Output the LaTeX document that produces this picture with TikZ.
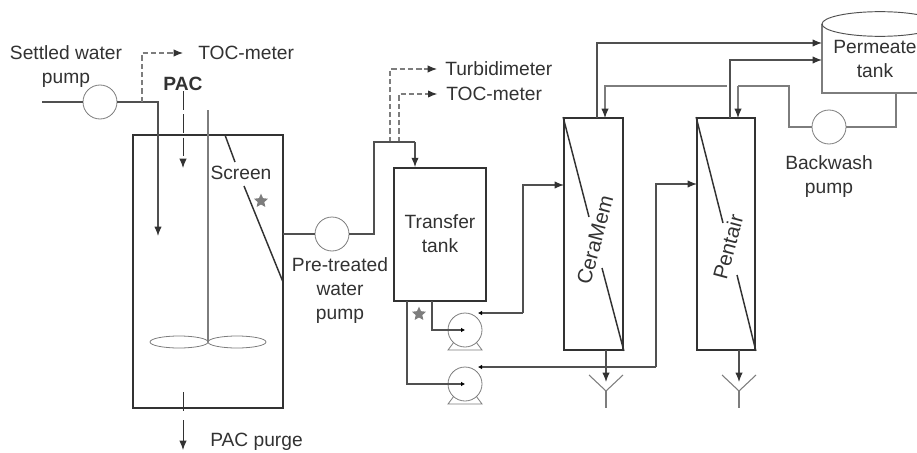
\documentclass[tikz,border=0pt]{standalone}
\usepackage{xcolor}
\usepackage{fontspec}
\setmainfont{Liberation Sans}
\usetikzlibrary{shapes.geometric, arrows.meta}
\definecolor{plantdark}{RGB}{50, 50, 50}
\definecolor{plantline}{RGB}{80, 80, 80}
\definecolor{plantthin}{RGB}{125, 125, 125}
\definecolor{plantstar}{RGB}{125, 125, 125}
\tikzset{
    tankbox/.style={draw=plantdark, line width=1.3pt, fill=none, inner sep=0pt},
    pumpdisc/.style={circle, draw=plantthin, line width=0.6pt, fill=white, minimum size=25.5pt, inner sep=0pt},
    plantlabel/.style={text=plantdark, font=\fontsize{14.4}{18}\selectfont, align=center, inner sep=0pt},
    bigtip/.style={-{Latex[length=7pt, width=5.5pt, color=plantdark]}},
    smalltip/.style={-{Latex[length=3pt, width=3.5pt, color=black]}},
    pipe/.style={draw=plantline, line width=0.9pt},
    thinpipe/.style={draw=plantthin, line width=0.8pt},
    flow/.style={pipe, bigtip},
    sample/.style={draw=plantthin, line width=0.8pt, dash pattern=on 4pt off 2.2pt, bigtip},
    hitmark/.style={star, star points=5, star point ratio=2.1, fill=plantstar, minimum size=11pt, inner sep=0pt},
    membrane/.style={draw=plantdark, line width=1.1pt},
    drainfork/.style={draw=plantthin, line width=0.8pt},
    paddle/.style={ellipse, draw=plantthin, line width=0.6pt, minimum width=43.5pt, minimum height=9pt, inner sep=0pt},
}

\begin{document}
\begin{tikzpicture}[x=0.75pt, y=-0.75pt]
    \useasboundingbox (0,0) rectangle (917,453);

    % tanks
    \node[tankbox, minimum width=112.5pt, minimum height=204.75pt] (reactor) at (208,271.5) {};
    \node[tankbox, minimum width=69pt, minimum height=99.75pt] (transfer) at (440,234.5) {};
    \node[tankbox, minimum width=44.25pt, minimum height=174pt] (ceramem) at (593.5,234) {};
    \node[tankbox, minimum width=43.5pt, minimum height=174pt] (pentair) at (726,234) {};

    % permeate tank, cut by the page edge
    \draw[draw=plantthin, line width=0.8pt] (917,93) -- (822,93) -- (822,24);
    \node[ellipse, draw=plantline, line width=0.7pt, minimum width=87pt, minimum height=18.5pt, inner sep=0pt] (permeate) at (880,24) {};
    \coordinate (permin) at (822,43);
    \coordinate (permintwo) at (822,60);
    \coordinate (permout) at (896,93);

    % simple pumps
    \node[pumpdisc] (settledpump) at (100,102) {};
    \node[pumpdisc] (pretreatpump) at (332,234) {};
    \node[pumpdisc] (backwashpump) at (829,127) {};

    % feed pumps with their feet
    \foreach \nm/\yy in {feedpumpa/330, feedpumpb/384} {
        \draw[draw=plantthin, line width=0.6pt] (454,\yy+12) -- (448,\yy+20) -- (482,\yy+20) -- (476,\yy+12);
        \node[pumpdisc] (\nm) at (465,\yy) {};
    }

    % settled water line
    \coordinate (inlet) at (42,102);
    \coordinate (settledbend) at (158,102);
    \coordinate (settledend) at (158,236);
    \draw[pipe] (inlet) -- (settledpump);
    \draw[flow] (settledpump) -- (settledbend) -- (settledend);

    % PAC dosing and stirrer
    \node[plantlabel, font=\fontsize{14.4}{18}\selectfont\bfseries] (pac) at (183,84) {PAC};
    \coordinate (pacend) at (183,168);
    \draw[draw=plantdark, line width=0.7pt, dash pattern=on 14pt off 3.5pt, bigtip] (pac.south) -- (pacend);
    \coordinate (stirtop) at (208,110);
    \coordinate (stirhub) at (208,342);
    \draw[draw=plantthin, line width=0.9pt] (stirtop) -- (stirhub);
    \node[paddle] (paddlea) at (179,342) {};
    \node[paddle] (paddleb) at (237,342) {};

    % screen
    \coordinate (screena) at (225,135);
    \coordinate (screenb) at (235,162);
    \coordinate (screenc) at (244,186);
    \coordinate (screend) at (283,282);
    \draw[membrane] (screena) -- (screenb);
    \draw[membrane] (screenc) -- (screend);
    \node[plantlabel] (screentxt) at (241,173) {Screen};
    \node[hitmark] (stara) at (261,201) {};
    \node[hitmark] (starb) at (419,314) {};

    % PAC purge
    \coordinate (purgea) at (183,392);
    \coordinate (purgeb) at (183,411);
    \coordinate (purgec) at (183,420);
    \coordinate (purged) at (183,450);
    \draw[draw=plantdark, line width=0.7pt] (purgea) -- (purgeb);
    \draw[draw=plantdark, line width=0.7pt, bigtip] (purgec) -- (purged);
    \node[plantlabel, anchor=west] (purgetxt) at (210,442) {PAC purge};

    % sample lines
    \coordinate (tocfork) at (142,102);
    \coordinate (tocbend) at (142,53);
    \coordinate (tocend) at (183,53);
    \node[plantlabel, anchor=west] (tocone) at (198,53) {TOC-meter};
    \draw[sample] (tocfork) -- (tocbend) -- (tocend);
    \coordinate (turbfork) at (390,142);
    \coordinate (tocforktwo) at (399,142);
    \node[plantlabel, anchor=west] (turbtxt) at (445,69) {Turbidimeter};
    \node[plantlabel, anchor=west] (toctwo) at (446,94) {TOC-meter};
    \draw[sample] (turbfork) |- ([xshift=-6pt]turbtxt.west);
    \draw[sample] (tocforktwo) |- ([xshift=-6.5pt]toctwo.west);

    % transfer tank feed
    \coordinate (prebend) at (374,234);
    \coordinate (pretop) at (374,142);
    \coordinate (preend) at (415,142);
    \coordinate (reactorout) at (283,234);
    \draw[pipe] (reactorout) -- (pretreatpump);
    \draw[pipe] (pretreatpump) -- (prebend) -- (pretop) -- (preend);
    \draw[flow] (preend) -- (preend |- transfer.north);

    % feed pump suction and delivery
    \coordinate (drawa) at (432,301);
    \coordinate (drawb) at (407,301);
    \draw[pipe, smalltip] (drawa) |- (feedpumpa.center);
    \draw[pipe, smalltip] (drawb) |- (feedpumpb.center);
    \coordinate (deliverya) at (478,313);
    \coordinate (deliveryb) at (478,367);
    \coordinate (risea) at (523,313);
    \coordinate (riseb) at (656,367);
    \coordinate (cerain) at (564,185);
    \coordinate (penin) at (697,184);
    \draw[pipe, smalltip] (risea) -- (deliverya);
    \draw[pipe, smalltip] (riseb) -- (deliveryb);
    \draw[flow] (risea) |- (cerain);
    \draw[flow] (riseb) |- (penin);

    % membranes
    \draw[membrane] (ceramem.north west) -- (589,217);
    \draw[membrane] (602,268) -- (ceramem.south east);
    \draw[membrane] (pentair.north west) -- (723,223);
    \draw[membrane] (737,275) -- (pentair.south east);
    \node[plantlabel, rotate=75, font=\fontsize{15.5}{18}\selectfont] (ceratxt) at (595,240) {CeraMem};
    \node[plantlabel, rotate=75, font=\fontsize{15.5}{18}\selectfont] (pentxt) at (728,247) {Pentair};
    \node[plantlabel] (transtxt) at (440,234) {Transfer\\tank};

    % permeate lines
    \coordinate (ceraout) at (597,118);
    \coordinate (penout) at (730,118);
    \draw[flow] (ceraout) |- (permin);
    \draw[flow] (penout) |- (permintwo);

    % backwash
    \coordinate (bwbend) at (789,86);
    \coordinate (bwgapa) at (738,86);
    \coordinate (bwgapb) at (727,86);
    \coordinate (bwend) at (605,86);
    \coordinate (bwdowna) at (738,118);
    \coordinate (bwdownb) at (605,118);
    \draw[thinpipe] (permout) |- (backwashpump);
    \draw[thinpipe] (backwashpump) -| (bwbend) -- (bwgapa);
    \draw[thinpipe, bigtip] (bwgapa) -- (bwdowna);
    \draw[thinpipe, bigtip] (bwgapb) -- (bwend) -- (bwdownb);

    % drains
    \foreach \nm/\xx in {ceramem/606, pentair/739} {
        \coordinate (\nm drain) at (\xx,350);
        \coordinate (\nm sump) at (\xx,382);
        \draw[flow] (\nm drain) -- (\nm sump);
        \draw[drainfork] (\xx-17,375) -- (\xx,391) -- (\xx+17,375);
        \draw[drainfork] (\xx,391) -- (\xx,408);
    }

    % labels
    \node[plantlabel] (settledtxt) at (66,66.5) {Settled water\\pump};
    \node[plantlabel] (pretxt) at (340,291) {Pre-treated\\water\\pump};
    \node[plantlabel] (bwtxt) at (829,177) {Backwash\\pump};
    \node[plantlabel] (permtxt) at (875,59) {Permeate\\tank};
\end{tikzpicture}
\end{document}
